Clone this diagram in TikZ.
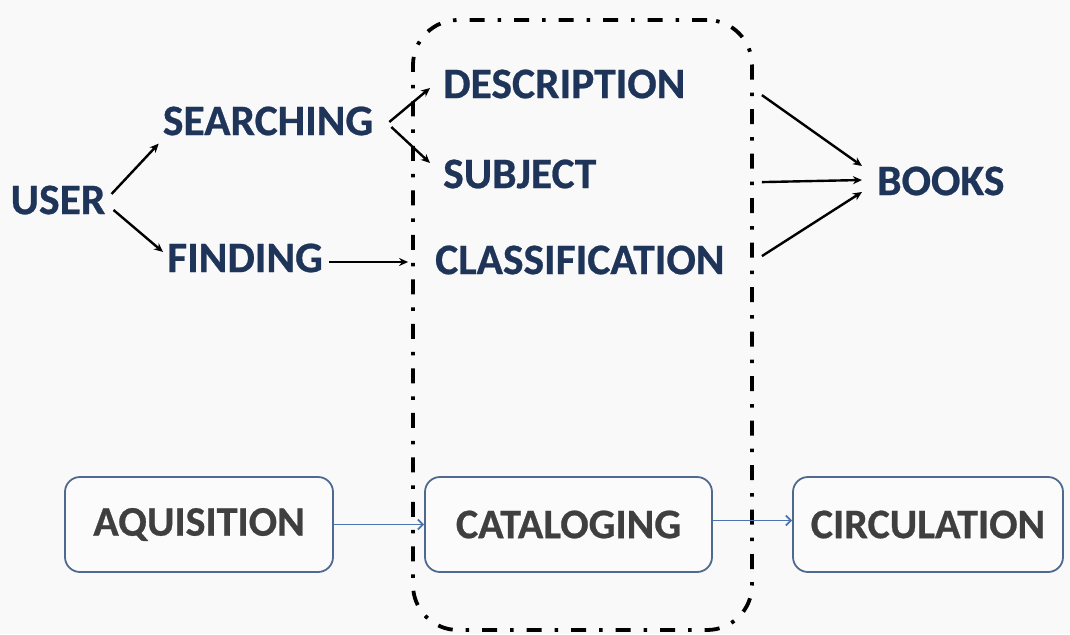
\documentclass[tikz,border=0pt]{standalone}
\usepackage{fontspec}
\setmainfont{Carlito}[BoldFeatures={FakeBold=0.6}]
\usetikzlibrary{calc,arrows.meta}

\definecolor{navy}{HTML}{1E3459}
\definecolor{darkgraytext}{HTML}{3F3F3F}
\definecolor{boxedge}{HTML}{4F6A8F}
\definecolor{flowblue}{HTML}{4A74B0}
\definecolor{paper}{HTML}{F9F9F9}
\definecolor{boxfill}{HTML}{FBFBFB}

\tikzset{
  term/.style={font=\fontsize{43.5}{46}\selectfont\bfseries, text=navy, inner sep=0pt},
  stage/.style={draw=boxedge, line width=1.8pt, rounded corners=15pt, fill=boxfill,
    font=\fontsize{42}{46}\selectfont\bfseries, text=darkgraytext},
  arr/.style={-{Stealth[length=9pt,width=8pt]}, line width=2.4pt, black},
  flow/.style={-{Straight Barb[length=5pt,width=10pt]}, line width=1.8pt, flowblue},
  frameline/.style={line width=3.8pt, black,
    dash pattern=on 15pt off 13pt on 3.5pt off 13pt, rounded corners=45pt}
}

\begin{document}
\begin{tikzpicture}[x=1pt, y=-1pt]
  % canvas
  \fill[paper] (0,0) rectangle (1070,634);
  \useasboundingbox (0,0) rectangle (1070,634);

  % the dash-dot frame around the cataloguing terms
  \node[frameline, draw, minimum width=339pt, minimum height=610pt, inner sep=0pt]
    (frame) at (582.5,325) {};

  % terms
  \node[term] (user) at (58,200) {USER};
  \node[term] (search) at (268,121) {SEARCHING};
  \node[term, anchor=west] (find) at (167,258) {FINDING};
  \node[term, anchor=west] (desc) at (443,84) {DESCRIPTION};
  \node[term, anchor=west] (subj) at (443,174) {SUBJECT};
  \node[term, anchor=west] (class) at (435,260) {CLASSIFICATION};
  \node[term, anchor=west] (books) at (877,181) {BOOKS};

  % upper connectors
  \draw[arr] ($(user.east)+(6,-6)$) -- ($(search.south west)+(-4,8)$);
  \draw[arr] ($(user.east)+(8,10)$) -- ($(find.west)+(-4,-6)$);
  \draw[arr] ($(search.east)+(16,1)$) -- ($(desc.west)+(-13,4)$);
  \draw[arr] ($(search.east)+(18,6)$) -- ($(subj.west)+(-13,-11)$);
  \draw[arr] ($(find.east)+(6,4)$) -- ($(find.east -| frame.west)+(-3,4)$);

  \draw[arr] ($(frame.north east)+(8,77)$) -- ($(books.west)+(-15,-15)$);
  \draw[arr] ($(frame.north east)+(8,164)$) -- ($(books.west)+(-15,-1)$);
  \draw[arr] ($(frame.north east)+(8,238)$) -- ($(books.west)+(-15,11)$);

  % process stages
  \node[stage, minimum width=268pt, minimum height=95pt] (aq) at (199,524.5) {AQUISITION};
  \node[stage, minimum width=287pt, minimum height=95pt] (cat) at (568.5,524.5) {CATALOGING};
  \node[stage, minimum width=270pt, minimum height=95pt] (circ) at (928,524.5) {CIRCULATION};

  \draw[flow] (aq.east) -- (cat.west);
  \draw[flow] ($(cat.east)+(0,-4)$) -- ($(circ.west)+(0,-4)$);
\end{tikzpicture}
\end{document}
